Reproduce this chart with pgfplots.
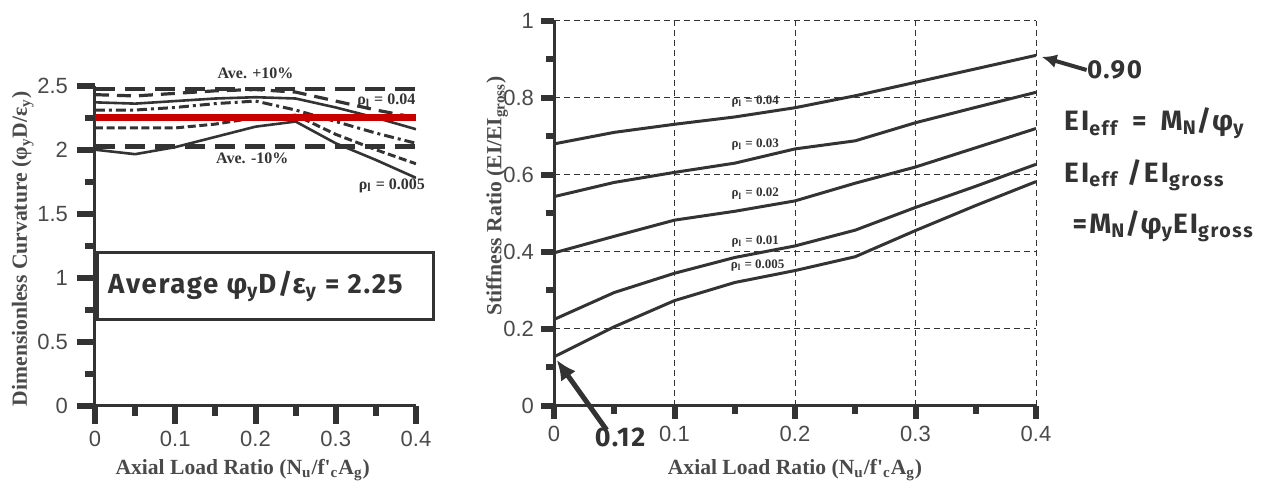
\documentclass[border=0pt]{standalone}
\usepackage{fontspec}
\setmainfont{Liberation Serif}
\newfontfamily\tickfont{Liberation Sans}
\newfontfamily\comic[LetterSpace=6]{Fira Sans}
\newfontfamily\comicw[LetterSpace=8]{Fira Sans}
\usepackage{pgfplots}
\pgfplotsset{compat=1.18}
\usetikzlibrary{arrows.meta}

\definecolor{dk}{HTML}{333333}
\definecolor{labgray}{HTML}{4A4A4A}
\definecolor{avered}{HTML}{C80000}

\pgfplotsset{
  panel/.style={
    scale only axis,
    axis lines=left,
    axis line style={-, line width=1.5pt, dk},
    xtick pos=left, ytick pos=left,
    every tick/.style={dk, line width=3pt},
    xmin=0, xmax=0.4,
    xtick={0,0.1,0.2,0.3,0.4},
    minor xtick={0.05,0.15,0.25,0.35},
    /pgf/number format/assume math mode=true,
    ticklabel style={font=\tickfont\fontsize{11}{11}\selectfont, text=labgray},
    label style={font=\bfseries\fontsize{10.8}{12}\selectfont, text=labgray},
    xlabel={Axial Load Ratio (N\textsubscript{u}/f\textquotesingle\textsubscript{c}A\textsubscript{g})},
  },
}
\tikzset{
  lbl/.style={font=\bfseries\fontsize{8}{9}\selectfont, text=dk},
  rlbl/.style={font=\bfseries\fontsize{6.5}{7}\selectfont, text=dk},
  eq/.style={font=\comicw\bfseries\fontsize{14}{16}\selectfont, text=dk, anchor=base west, inner sep=0pt},
}

\begin{document}
\begin{tikzpicture}
\path[use as bounding box] (0,0) rectangle (633.5pt,-243.5pt);

% ---- left panel: dimensionless curvature
\begin{axis}[panel,
  at={(47.5pt,-202.85pt)}, anchor=south west,
  width=160.5pt, height=160pt,
  ymin=0, ymax=2.5,
  ytick={0,0.5,1,1.5,2,2.5},
  minor ytick={0.25,0.75,1.25,1.75,2.25},
  tick align=outside,
  major tick length=9pt, minor tick length=5pt,
  yticklabel style={xshift=-1pt},
  xlabel style={at={(axis description cs:0.46,0)}, yshift=-32pt, anchor=center},
  ylabel={Dimensionless Curvature (φ\textsubscript{y}D/ε\textsubscript{y})},
  ylabel style={at={(axis description cs:-0.225,0.49)}, anchor=center},
]
% average +/- 10%
\addplot[dk, line width=2.4pt, dash pattern=on 10pt off 5pt] coordinates {(0,2.475) (0.4,2.475)};
\addplot[dk, line width=2.4pt, dash pattern=on 10pt off 5pt] coordinates {(0,2.025) (0.4,2.025)};
% rho = 0.04
\addplot[dk, line width=1.3pt] coordinates {
  (0,2.37) (0.05,2.36) (0.1,2.38) (0.15,2.40) (0.2,2.41) (0.25,2.40) (0.3,2.33) (0.35,2.25) (0.4,2.16)};
% rho = 0.03
\addplot[dk, line width=1.6pt, dash pattern=on 7pt off 4pt] coordinates {
  (0,2.43) (0.05,2.42) (0.1,2.44) (0.15,2.46) (0.2,2.47) (0.25,2.45) (0.3,2.38) (0.35,2.31) (0.4,2.25)};
% rho = 0.02
\addplot[dk, line width=1.5pt, dash pattern=on 5pt off 2pt on 1.5pt off 2pt] coordinates {
  (0,2.31) (0.05,2.31) (0.1,2.33) (0.15,2.36) (0.2,2.38) (0.25,2.31) (0.3,2.22) (0.35,2.13) (0.4,2.05)};
% rho = 0.01
\addplot[dk, line width=1.5pt, dash pattern=on 4pt off 1.8pt] coordinates {
  (0,2.17) (0.05,2.17) (0.1,2.17) (0.15,2.20) (0.2,2.25) (0.25,2.27) (0.3,2.12) (0.35,2.00) (0.4,1.89)};
% rho = 0.005
\addplot[dk, line width=1.3pt] coordinates {
  (0,2.00) (0.05,1.965) (0.1,2.02) (0.15,2.10) (0.2,2.18) (0.25,2.22) (0.3,2.05) (0.35,1.92) (0.4,1.78)};
% average
\addplot[avered, line width=3.4pt] coordinates {(0,2.25) (0.4,2.25)};

\coordinate (la1) at (axis cs:0.2,2.6);
\coordinate (la2) at (axis cs:0.196,1.93);
\coordinate (la3) at (axis cs:0.363,2.38);
\coordinate (la4) at (axis cs:0.37,1.72);
\coordinate (lb1) at (axis cs:0.0025,0.67);
\coordinate (lb2) at (axis cs:0.422,1.2);
\coordinate (lt)  at (axis cs:0.016,0.93);
\end{axis}

\node[lbl] at (la1) {Ave. +10\%};
\node[lbl] at (la2) {Ave. -10\%};
\node[lbl] at (la3) {ρ\textsubscript{l} = 0.04};
\node[lbl] at (la4) {ρ\textsubscript{l} = 0.005};
\draw[line width=1.5pt, dk] (lb1) rectangle (lb2);
\node[font=\comic\bfseries\fontsize{13.8}{16}\selectfont, text=dk, anchor=west, inner sep=0pt]
  at (lt) {Average φ\textsubscript{y}D/ε\textsubscript{y} = 2.25};

% ---- right panel: stiffness ratio
\begin{axis}[panel,
  at={(277pt,-202.85pt)}, anchor=south west,
  width=241pt, height=192.5pt,
  ymin=0, ymax=1,
  ytick={0,0.2,0.4,0.6,0.8,1},
  minor ytick={0.1,0.3,0.5,0.7,0.9},
  tick align=outside,
  major tick length=6.5pt, minor tick length=4pt,
  grid=major,
  major grid style={dk, line width=0.5pt, dash pattern=on 3pt off 2pt},
  xlabel style={at={(axis description cs:0.5,0)}, yshift=-32pt, anchor=center},
  ylabel={Stiffness Ratio (EI/EI\textsubscript{gross})},
  ylabel style={at={(axis description cs:-0.118,0.545)}, anchor=center},
]
\addplot[dk, line width=1.5pt] coordinates {
  (0,0.68) (0.05,0.71) (0.1,0.731) (0.15,0.75) (0.2,0.774) (0.25,0.805) (0.3,0.84) (0.35,0.875) (0.4,0.91)};
\addplot[dk, line width=1.5pt] coordinates {
  (0,0.543) (0.05,0.58) (0.1,0.606) (0.15,0.63) (0.2,0.667) (0.25,0.688) (0.3,0.735) (0.35,0.775) (0.4,0.814)};
\addplot[dk, line width=1.5pt] coordinates {
  (0,0.397) (0.05,0.44) (0.1,0.482) (0.15,0.505) (0.2,0.532) (0.25,0.578) (0.3,0.62) (0.35,0.67) (0.4,0.72)};
\addplot[dk, line width=1.5pt] coordinates {
  (0,0.224) (0.05,0.294) (0.1,0.344) (0.15,0.385) (0.2,0.415) (0.25,0.456) (0.3,0.515) (0.35,0.57) (0.4,0.627)};
\addplot[dk, line width=1.5pt] coordinates {
  (0,0.127) (0.05,0.205) (0.1,0.273) (0.15,0.32) (0.2,0.351) (0.25,0.387) (0.3,0.455) (0.35,0.52) (0.4,0.582)};

\coordinate (r1) at (axis cs:0.167,0.79);
\coordinate (r2) at (axis cs:0.167,0.679);
\coordinate (r3) at (axis cs:0.167,0.55);
\coordinate (r4) at (axis cs:0.167,0.426);
\coordinate (r5) at (axis cs:0.169,0.365);
\coordinate (a1) at (axis cs:0.442,0.872);
\coordinate (a2) at (axis cs:0.4047,0.906);
\coordinate (b1) at (axis cs:0.0437,-0.063);
\coordinate (b2) at (axis cs:0.0022,0.119);
\coordinate (t12) at (axis cs:0.0548,-0.082);
\coordinate (e1) at (axis cs:0.423,0.716);
\coordinate (e2) at (axis cs:0.423,0.581);
\coordinate (e3) at (axis cs:0.430,0.448);
\end{axis}

\node[rlbl] at (r1) {ρ\textsubscript{l} = 0.04};
\node[rlbl] at (r2) {ρ\textsubscript{l} = 0.03};
\node[rlbl] at (r3) {ρ\textsubscript{l} = 0.02};
\node[rlbl] at (r4) {ρ\textsubscript{l} = 0.01};
\node[rlbl] at (r5) {ρ\textsubscript{l} = 0.005};

\draw[dk, line width=2pt, -{Latex[length=7.5pt, width=7pt]}] (a1) -- (a2);
\node[font=\comic\bfseries\fontsize{13}{14}\selectfont, text=dk, anchor=west, inner sep=0pt] at (a1) {0.90};
\draw[dk, line width=2.5pt, -{Latex[length=10pt, width=9pt]}] (b1) -- (b2);
\node[font=\comic\bfseries\fontsize{13.5}{14}\selectfont, text=dk, inner sep=0pt] at (t12) {0.12};

\node[eq] at (e1) {EI\textsubscript{eff}\enspace=\enspace M\textsubscript{N}/φ\textsubscript{y}};
\node[eq] at (e2) {EI\textsubscript{eff} /EI\textsubscript{gross}};
\node[eq] at (e3) {=M\textsubscript{N}/φ\textsubscript{y}EI\textsubscript{gross}};
\end{tikzpicture}
\end{document}
